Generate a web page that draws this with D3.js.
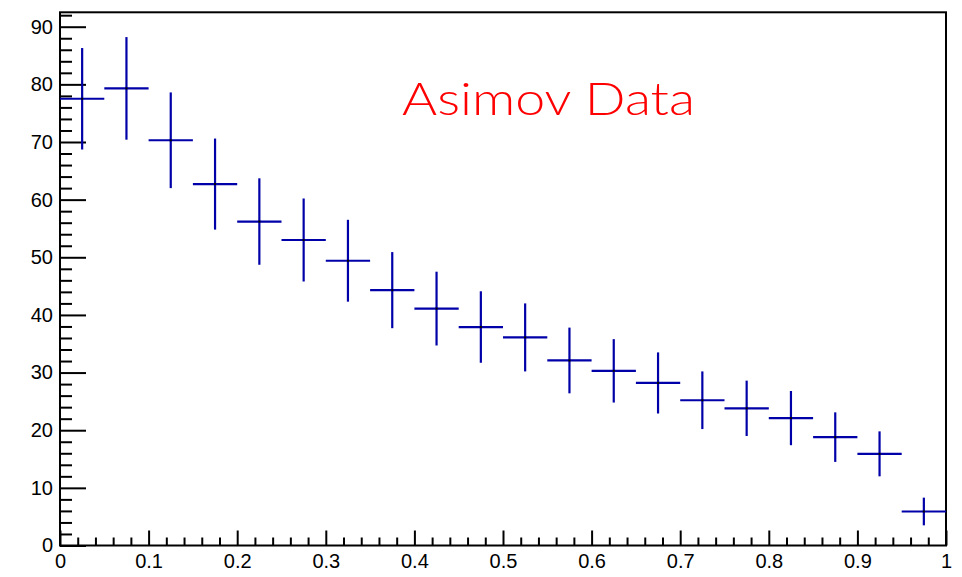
<!DOCTYPE html>
<html>
<head>
<meta charset="utf-8">
<script src="https://cdn.jsdelivr.net/npm/d3@7"></script>
<style>
  html, body { margin: 0; padding: 0; background: #fff; }
  svg { display: block; }
</style>
</head>
<body>
<svg id="chart" width="962" height="577"></svg>
<script>
// Histogram bins (width 0.05) with Poisson-style error bars
const binCenters = [0.025, 0.075, 0.125, 0.175, 0.225, 0.275, 0.325, 0.375, 0.425, 0.475,
                    0.525, 0.575, 0.625, 0.675, 0.725, 0.775, 0.825, 0.875, 0.925, 0.975];
const binWidth = 0.05;
const counts = [77.5, 79.3, 70.3, 62.7, 56.2, 53.0, 49.4, 44.3, 41.1, 37.9,
                36.1, 32.1, 30.3, 28.2, 25.2, 23.8, 22.1, 18.8, 15.9, 5.9];
const errors = [8.8, 8.9, 8.3, 7.9, 7.5, 7.2, 7.1, 6.6, 6.4, 6.2,
                5.9, 5.7, 5.5, 5.3, 5.0, 4.8, 4.7, 4.3, 3.9, 2.4];

const xTickValues = [0, 0.1, 0.2, 0.3, 0.4, 0.5, 0.6, 0.7, 0.8, 0.9, 1];
const yTickValues = [0, 10, 20, 30, 40, 50, 60, 70, 80, 90];
const xMinorStep = 0.02;
const yMinorStep = 2;
const xDomain = [0, 1];
const yDomain = [0, 92.5];
const title = "Asimov Data";

const svg = d3.select("#chart");
const frame = { left: 60, right: 946, top: 12.3, bottom: 545.5 };

const x = d3.scaleLinear().domain(xDomain).range([frame.left, frame.right]);
const y = d3.scaleLinear().domain(yDomain).range([frame.bottom, frame.top]);

const axisFont = "'Liberation Sans', Arial, Helvetica, sans-serif";
const barColor = "#0000a8";

// minor tick positions (skip the ones sitting on major ticks)
const xMinor = d3.range(0, 1.0001, xMinorStep).filter(v => Math.abs(v * 10 - Math.round(v * 10)) > 1e-6);
const yMinor = d3.range(0, yDomain[1], yMinorStep).filter(v => v % 10 !== 0);

function styleAxis(g) {
  g.select(".domain").remove();
  g.selectAll(".tick line").attr("stroke", "#000").attr("stroke-width", 2);
  g.selectAll("text")
    .attr("font-family", axisFont)
    .attr("font-size", 20)
    .attr("fill", "#000");
}

// x axis: major ticks + labels, ticks pointing into the frame
svg.append("g")
  .attr("transform", `translate(0,${frame.bottom})`)
  .call(d3.axisBottom(x).tickValues(xTickValues).tickSize(-15).tickPadding(8)
        .tickFormat(v => String(+v.toFixed(1))))
  .call(styleAxis);

svg.append("g")
  .attr("transform", `translate(0,${frame.bottom})`)
  .call(d3.axisBottom(x).tickValues(xMinor).tickSize(-8).tickFormat(""))
  .call(styleAxis);

// y axis
svg.append("g")
  .attr("transform", `translate(${frame.left},0)`)
  .call(d3.axisLeft(y).tickValues(yTickValues).tickSize(-26).tickPadding(7)
        .tickFormat(d3.format("d")))
  .call(styleAxis);

svg.append("g")
  .attr("transform", `translate(${frame.left},0)`)
  .call(d3.axisLeft(y).tickValues(yMinor).tickSize(-12).tickFormat(""))
  .call(styleAxis);

// frame
svg.append("rect")
  .attr("x", frame.left).attr("y", frame.top)
  .attr("width", frame.right - frame.left)
  .attr("height", frame.bottom - frame.top)
  .attr("fill", "none").attr("stroke", "#000").attr("stroke-width", 2);

// error crosses
const bins = binCenters.map((c, i) => ({ c, v: counts[i], e: errors[i] }));
const marks = svg.append("g").attr("stroke", barColor).attr("stroke-width", 2.2);

marks.selectAll("line.h").data(bins).join("line")
  .attr("class", "h")
  .attr("x1", d => x(d.c - binWidth / 2))
  .attr("x2", d => x(d.c + binWidth / 2))
  .attr("y1", d => y(d.v)).attr("y2", d => y(d.v));

marks.selectAll("line.v").data(bins).join("line")
  .attr("class", "v")
  .attr("x1", d => x(d.c)).attr("x2", d => x(d.c))
  .attr("y1", d => y(d.v - d.e)).attr("y2", d => y(d.v + d.e));

svg.append("g").selectAll("rect").data(bins).join("rect")
  .attr("x", d => x(d.c) - 1).attr("y", d => y(d.v) - 1)
  .attr("width", 2).attr("height", 2).attr("fill", "#000");

// label
svg.append("text")
  .attr("x", 402).attr("y", 115)
  .attr("font-family", "Lato, 'Open Sans', sans-serif")
  .attr("font-weight", 300)
  .attr("font-size", 45)
  .attr("fill", "#ff0000")
  .attr("textLength", 293)
  .attr("lengthAdjust", "spacingAndGlyphs")
  .text(title);
</script>
</body>
</html>
